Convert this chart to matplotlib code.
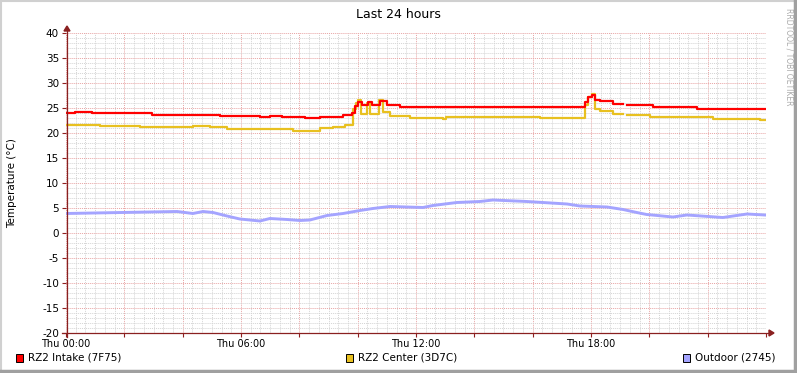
import matplotlib
matplotlib.use('Agg')
import matplotlib.pyplot as plt
import numpy as np
from matplotlib.patches import Rectangle, Polygon
from matplotlib.lines import Line2D

# hours since Thu 00:00 / temperature in degC
hours_intake = [0, 0.31, 0.89, 2.95, 5.28, 6.65, 6.99, 7.40, 8.19, 8.71, 9.50, 9.80,
                9.91, 10.01, 10.15, 10.35, 10.49, 10.76, 11.00, 11.45, 17.72, 17.79,
                17.90, 18.03, 18.13, 18.31, 18.75, 19.10, 19.23, 20.12, 21.63, 22.42, 24.0]
temp_intake = [24.0, 24.2, 24.0, 23.7, 23.5, 23.2, 23.4, 23.3, 23.0, 23.2, 23.6, 24.0,
               25.5, 26.3, 25.6, 26.3, 25.6, 26.5, 25.7, 25.2, 25.2, 26.3,
               27.3, 27.7, 26.7, 26.5, 25.9, np.nan, 25.6, 25.3, 24.9, 24.8, 24.8]

hours_center = [0, 0.31, 1.17, 2.54, 3.57, 4.35, 4.94, 5.52, 6.65, 7.78, 8.71, 9.15,
                9.56, 9.84, 9.94, 10.01, 10.11, 10.32, 10.42, 10.73, 10.87, 11.11,
                11.79, 12.92, 13.03, 14.88, 16.25, 16.94, 17.72, 17.79, 17.90, 18.03,
                18.13, 18.31, 18.75, 19.10, 19.23, 20.02, 21.39, 22.18, 23.79, 24.0]
temp_center = [21.6, 21.7, 21.5, 21.2, 21.3, 21.5, 21.3, 20.9, 20.8, 20.5, 21.0, 21.3,
               21.6, 24.9, 26.0, 26.6, 23.8, 26.0, 23.8, 26.6, 24.3, 23.4,
               23.1, 22.9, 23.2, 23.3, 23.1, 23.0, 23.0, 25.6, 27.3, 27.9,
               24.9, 24.4, 23.9, np.nan, 23.7, 23.3, 23.3, 22.9, 22.7, 22.7]

hours_outdoor = [0, 3.81, 4.35, 4.70, 5.04, 5.52, 5.96, 6.65, 6.99, 7.58, 8.02, 8.36,
                 8.95, 9.50, 10.08, 10.52, 11.11, 12.24, 12.58, 13.40, 14.19, 14.64,
                 15.80, 17.18, 17.62, 18.55, 19.10, 19.57, 19.91, 20.81, 21.29, 22.52,
                 23.35, 23.96]
temp_outdoor = [3.9, 4.3, 3.9, 4.3, 4.1, 3.4, 2.8, 2.4, 2.9, 2.7, 2.5, 2.6,
                3.5, 3.9, 4.5, 4.9, 5.3, 5.1, 5.5, 6.1, 6.3, 6.6,
                6.3, 5.8, 5.4, 5.2, 4.7, 4.1, 3.7, 3.2, 3.6, 3.1,
                3.8, 3.6]

series_names = ['RZ2 Intake (7F75)', 'RZ2 Center (3D7C)', 'Outdoor (2745)']
series_colors = ['#ff0000', '#e8c020', '#a4a4ff']

W, H = 797, 373
fx = lambda px: px / W
fy = lambda py: 1 - py / H

plt.rcParams['font.family'] = 'DejaVu Sans'
fig = plt.figure(figsize=(W / 100, H / 100), dpi=100)
fig.patch.set_facecolor('white')

ax = fig.add_axes([fx(66), fy(333), 700 / W, 300 / H])
ax.set_xlim(0, 24)
ax.set_ylim(-20, 40)

xt = np.arange(0, 24.01, 2)
ax.set_xticks(xt)
ax.set_xticklabels(['Thu %02d:00' % h if h % 6 == 0 and h < 24 else '' for h in xt], fontsize=7)
ax.set_xticks(np.arange(0, 24.01, 1 / 3), minor=True)
ax.set_yticks(range(-20, 41, 5))
ax.set_yticklabels([str(v) for v in range(-20, 41, 5)], fontsize=7.5)
ax.set_yticks(range(-20, 41, 1), minor=True)

ax.grid(which='minor', color='#d4d4d4', linestyle=(0, (1, 1)), lw=0.7)
ax.grid(which='major', color='#e8a4a4', linestyle=(0, (1, 1)), lw=0.7)
ax.set_axisbelow(True)
ax.tick_params(which='major', length=3, color='#902020', pad=2)
ax.tick_params(axis='x', which='major', pad=1)
ax.tick_params(which='minor', length=0)
for s in ax.spines.values():
    s.set_visible(False)

ax.plot(hours_outdoor, temp_outdoor, color=series_colors[2], lw=2.1)
ax.plot(hours_center, temp_center, color=series_colors[1], lw=1.6, drawstyle='steps-post')
ax.plot(hours_intake, temp_intake, color=series_colors[0], lw=1.6, drawstyle='steps-post')

# axes with arrows
axc = '#8a2020'
fig.add_artist(Line2D([fx(67), fx(67)], [fy(337), fy(30)], color=axc, lw=0.9))
fig.add_artist(Line2D([fx(62), fx(770)], [fy(333), fy(333)], color=axc, lw=0.9))
fig.add_artist(Polygon([[fx(64), fy(31)], [fx(70), fy(31)], [fx(67), fy(26)]], closed=True,
                       color=axc, transform=fig.transFigure))
fig.add_artist(Polygon([[fx(769), fy(330)], [fx(769), fy(336)], [fx(774), fy(333)]], closed=True,
                       color=axc, transform=fig.transFigure))

fig.text(fx(398), fy(14), 'Last 24 hours', ha='center', va='center', fontsize=9)
fig.text(fx(12), fy(183), 'Temperature (°C)', rotation=90, ha='center', va='center', fontsize=7.5)
fig.text(fx(789), fy(8), 'RRDTOOL / TOBI OETIKER', rotation=270, ha='center', va='top',
         fontsize=5.5, color='#aaaaaa')

# legend
for name, col, sx in zip(series_names, series_colors, [16, 346, 683]):
    fig.add_artist(Rectangle((fx(sx), fy(362)), 7 / W, 8 / H, facecolor=col, edgecolor='black',
                             lw=0.7, transform=fig.transFigure))
    fig.text(fx(sx + 12), fy(358), name, ha='left', va='center', fontsize=7.5)

# frame
fig.add_artist(Line2D([0, 1], [fy(1), fy(1)], color='#d0d0d0', lw=1.5))
fig.add_artist(Line2D([fx(1), fx(1)], [0, 1], color='#d0d0d0', lw=1.5))
fig.add_artist(Line2D([fx(795), fx(795)], [0, 1], color='#a0a0a0', lw=2.5))
fig.add_artist(Line2D([0, 1], [fy(371), fy(371)], color='#a0a0a0', lw=2.5))

fig.savefig('out.png', dpi=100, facecolor='white')
